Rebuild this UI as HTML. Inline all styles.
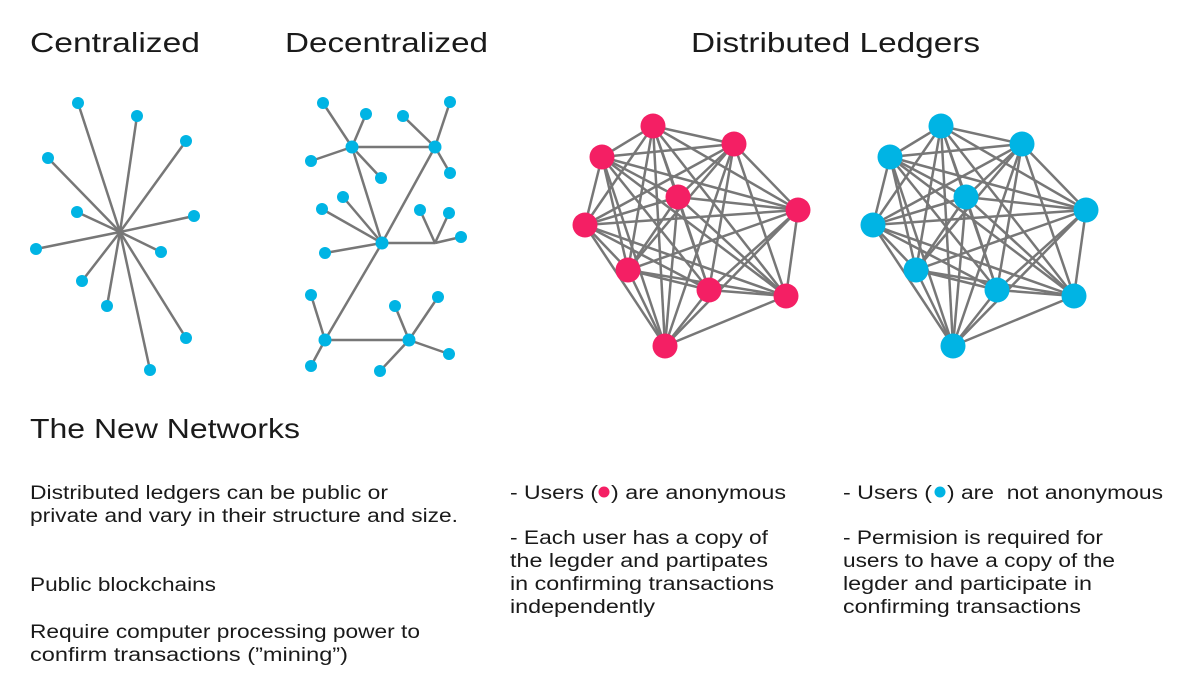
<!DOCTYPE html>
<html><head><meta charset="utf-8"><style>
html,body{margin:0;padding:0;background:#fff;}
svg{display:block;font-family:"Liberation Sans",sans-serif;fill:#1a1a1a;}
text{white-space:pre;}
</style></head><body>
<svg id="s" width="1190" height="700" viewBox="0 0 1190 700" xmlns="http://www.w3.org/2000/svg">
<g font-size="28">
<text x="30" y="52" textLength="170" lengthAdjust="spacingAndGlyphs">Centralized</text>
<text x="285" y="52" textLength="203" lengthAdjust="spacingAndGlyphs">Decentralized</text>
<text x="691" y="52" textLength="289" lengthAdjust="spacingAndGlyphs">Distributed Ledgers</text>
<text x="30" y="438" textLength="270" lengthAdjust="spacingAndGlyphs">The New Networks</text>
</g>
<g font-size="19">
<text x="30" y="499" textLength="358" lengthAdjust="spacingAndGlyphs">Distributed ledgers can be public or</text>
<text x="30" y="522" textLength="428" lengthAdjust="spacingAndGlyphs">private and vary in their structure and size.</text>
<text x="30" y="591" textLength="186" lengthAdjust="spacingAndGlyphs">Public blockchains</text>
<text x="30" y="638" textLength="390" lengthAdjust="spacingAndGlyphs">Require computer processing power to</text>
<text x="30" y="661" textLength="318" lengthAdjust="spacingAndGlyphs">confirm transactions (”mining”)</text>
<text x="510" y="499" textLength="88" lengthAdjust="spacingAndGlyphs">- Users (</text>
<text x="611" y="499" textLength="175" lengthAdjust="spacingAndGlyphs">) are anonymous</text>
<text x="510" y="544" textLength="258" lengthAdjust="spacingAndGlyphs">- Each user has a copy of</text>
<text x="510" y="567" textLength="258" lengthAdjust="spacingAndGlyphs">the legder and partipates</text>
<text x="510" y="590" textLength="264" lengthAdjust="spacingAndGlyphs">in confirming transactions</text>
<text x="510" y="613" textLength="145" lengthAdjust="spacingAndGlyphs">independently</text>
<text x="843" y="499" textLength="89" lengthAdjust="spacingAndGlyphs">- Users (</text>
<text x="947" y="499" textLength="216" lengthAdjust="spacingAndGlyphs">) are  not anonymous</text>
<text x="843" y="544" textLength="260" lengthAdjust="spacingAndGlyphs">- Permision is required for</text>
<text x="843" y="567" textLength="272" lengthAdjust="spacingAndGlyphs">users to have a copy of the</text>
<text x="843" y="590" textLength="249" lengthAdjust="spacingAndGlyphs">legder and participate in</text>
<text x="843" y="613" textLength="238" lengthAdjust="spacingAndGlyphs">confirming transactions</text>
</g>
<circle cx="604" cy="492" r="5.5" fill="#f41f64"/>
<circle cx="940" cy="492" r="5.5" fill="#00b4e4"/>
<g id="lines" stroke="#777" stroke-width="2.5"></g>
<g id="dots"></g>
</svg>
<script>
var NS="http://www.w3.org/2000/svg",L=document.getElementById('lines'),D=document.getElementById('dots');
function ln(a,b){var e=document.createElementNS(NS,'line');e.setAttribute('x1',a[0]);e.setAttribute('y1',a[1]);e.setAttribute('x2',b[0]);e.setAttribute('y2',b[1]);L.appendChild(e);}
function dot(p,r,c){var e=document.createElementNS(NS,'circle');e.setAttribute('cx',p[0]);e.setAttribute('cy',p[1]);e.setAttribute('r',r);e.setAttribute('fill',c);D.appendChild(e);}
var B="#00b4e4",R="#f41f64";
var c=[120,232],cl=[[78,103],[137,116],[186,141],[48,158],[77,212],[194,216],[36,249],[161,252],[82,281],[107,306],[186,338],[150,370]];
cl.forEach(function(p){ln(c,p);dot(p,6,B);});
var A=[352,147],Bh=[435,147],C=[382,243],Dh=[325,340],E=[409,340],F=[435,243];
[[A,Bh],[A,C],[Bh,C],[C,F],[C,Dh],[Dh,E]].forEach(function(e){ln(e[0],e[1]);});
var leaves=[[A,[[323,103],[366,114],[311,161],[381,178]]],[Bh,[[403,116],[450,102],[450,173]]],[C,[[322,209],[343,197],[325,253]]],[F,[[420,210],[449,213],[461,237]]],[Dh,[[311,295],[311,366]]],[E,[[395,306],[438,297],[449,354],[380,371]]]];
leaves.forEach(function(g){g[1].forEach(function(p){ln(g[0],p);dot(p,6,B);});});
[A,Bh,C,Dh,E].forEach(function(p){dot(p,6.5,B);});
var rn=[[653,126],[602,157],[734,144],[678,197],[798,210],[585,225],[628,270],[709,290],[786,296],[665,346]];
function full(ns,col){for(var i=0;i<ns.length;i++)for(var j=i+1;j<ns.length;j++)ln(ns[i],ns[j]);ns.forEach(function(p){dot(p,12.5,col);});}
full(rn,R);
full(rn.map(function(p){return [p[0]+288,p[1]];}),B);
</script>
</body></html>
